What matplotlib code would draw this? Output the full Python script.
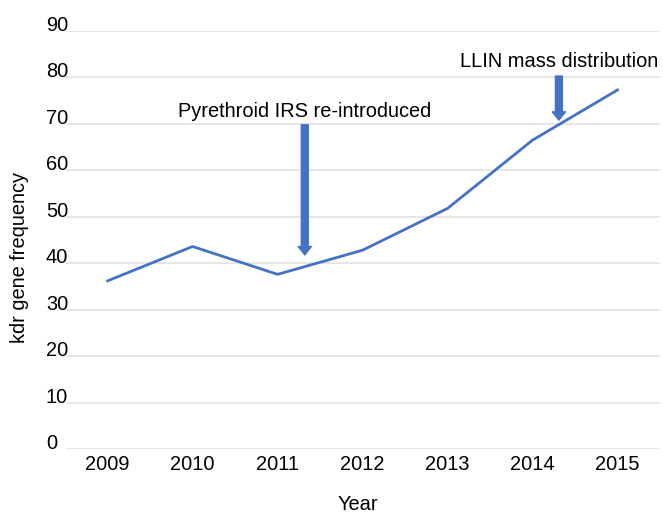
import matplotlib
matplotlib.use("Agg")
import matplotlib.pyplot as plt

plt.rcParams['font.family'] = ['Liberation Sans', 'DejaVu Sans']

years = ['2009', '2010', '2011', '2012', '2013', '2014', '2015']
kdr_freq = [36.2, 43.6, 37.6, 42.8, 51.8, 66.5, 77.3]
yticks = [0, 10, 20, 30, 40, 50, 60, 70, 80, 90]

# events: (label, x position, arrow tail y, arrow tip y, label y)
events = [
    ("Pyrethroid IRS re-introduced", 2.32, 69.8, 41.8, 72.6),
    ("LLIN mass distribution", 5.31, 80.3, 70.8, 83.4),
]

blue = '#4472C4'

fig = plt.figure(figsize=(6.63, 5.13), dpi=100)
ax = fig.add_axes([0.0995, 0.1248, 0.896, 0.8148])

x = list(range(len(years)))
ax.plot(x, kdr_freq, color=blue, linewidth=2)

ax.set_xlim(-0.49, len(years) - 0.5)
ax.set_ylim(0, 90)
ax.set_xticks(x)
ax.set_xticklabels(years)
ax.set_yticks(yticks)

ax.grid(axis='y', color='#e4e4e4', linewidth=1.3)
ax.set_axisbelow(True)
for s in ax.spines.values():
    s.set_visible(False)

fs = 14.4
ax.tick_params(axis='both', length=0, labelsize=fs, colors='black')
ax.tick_params(axis='x', pad=4)
ax.tick_params(axis='y', pad=14.5)
for lab in ax.get_yticklabels():
    lab.set_horizontalalignment('left')
    lab.set_verticalalignment('baseline')

ax.set_ylabel('kdr gene frequency', fontsize=fs)
ax.yaxis.set_label_coords(-0.0625, 0.459)
ax.set_xlabel('Year', fontsize=fs)
ax.xaxis.set_label_coords(0.4916, -0.134)
ax.xaxis.label.set_verticalalignment('center')

for label, ex, y0, y1, ty in events:
    ax.annotate('', xy=(ex, y1), xytext=(ex, y0),
                arrowprops=dict(arrowstyle='simple,head_length=0.6,head_width=0.95,tail_width=0.5',
                                mutation_scale=10, color=blue, shrinkA=0, shrinkB=0))
    ax.text(ex, ty, label, ha='center', va='center', fontsize=fs)

fig.savefig('out.png', dpi=100)
